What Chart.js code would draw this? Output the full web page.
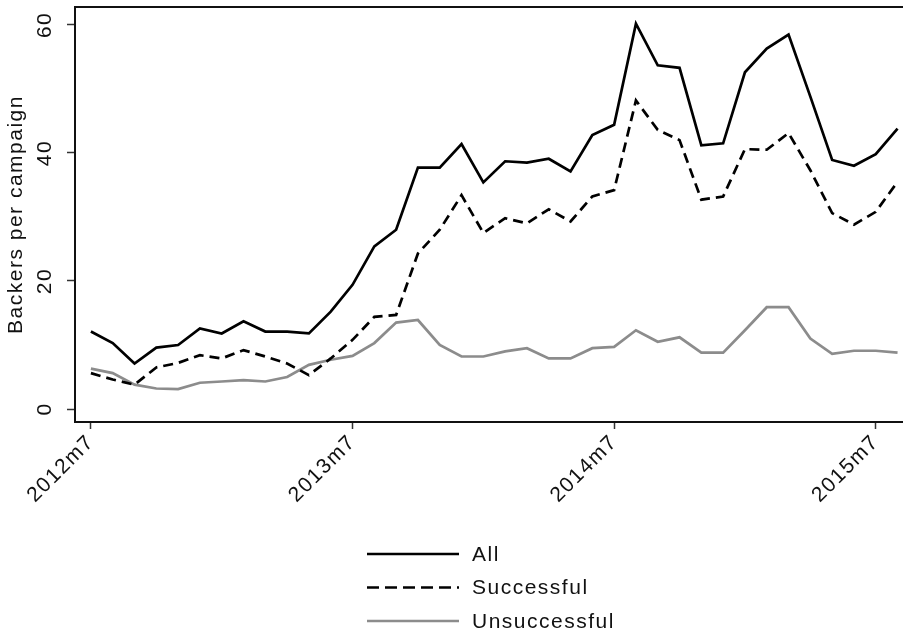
<!DOCTYPE html>
<html>
<head>
<meta charset="utf-8">
<script src="https://cdn.jsdelivr.net/npm/chart.js@4/dist/chart.umd.min.js"></script>
<style>
  html, body { margin: 0; padding: 0; background: #fff; overflow: hidden; }
  #wrap { width: 903px; height: 637px; position: relative; }
</style>
</head>
<body>
<div id="wrap"><canvas id="c" width="903" height="637"></canvas></div>
<script>
// Monthly periods, 2012m7 .. 2015m8
const months = [
  '2012m7','2012m8','2012m9','2012m10','2012m11','2012m12',
  '2013m1','2013m2','2013m3','2013m4','2013m5','2013m6',
  '2013m7','2013m8','2013m9','2013m10','2013m11','2013m12',
  '2014m1','2014m2','2014m3','2014m4','2014m5','2014m6',
  '2014m7','2014m8','2014m9','2014m10','2014m11','2014m12',
  '2015m1','2015m2','2015m3','2015m4','2015m5','2015m6',
  '2015m7','2015m8'
];

// Average backers per campaign
const allCampaigns = [
  12.1, 10.3, 7.1, 9.6, 10.0, 12.6, 11.8, 13.7, 12.1, 12.1, 11.8, 15.2,
  19.4, 25.4, 28.0, 37.7, 37.7, 41.4, 35.4, 38.7, 38.5, 39.1, 37.1, 42.8,
  44.4, 60.2, 53.7, 53.3, 41.2, 41.5, 52.6, 56.3, 58.5, 48.8, 38.9, 38.0,
  39.8, 43.8
];
const successful = [
  5.6, 4.6, 3.8, 6.5, 7.2, 8.4, 7.9, 9.2, 8.2, 7.1, 5.3, 7.9,
  10.8, 14.4, 14.7, 24.3, 28.0, 33.4, 27.5, 29.8, 29.0, 31.2, 29.3, 33.2,
  34.2, 48.2, 43.6, 42.0, 32.7, 33.2, 40.6, 40.5, 43.1, 37.3, 30.6, 28.8,
  30.8, 35.5
];
const unsuccessful = [
  6.3, 5.6, 3.8, 3.2, 3.1, 4.1, 4.3, 4.5, 4.3, 5.0, 6.9, 7.7,
  8.3, 10.3, 13.5, 13.9, 10.0, 8.2, 8.2, 9.0, 9.5, 7.9, 7.9, 9.5,
  9.7, 12.3, 10.5, 11.2, 8.8, 8.8, 12.3, 15.9, 15.9, 11.0, 8.6, 9.1,
  9.1, 8.8
];

const xTickMonths = ['2012m7', '2013m7', '2014m7', '2015m7'];
const yTickValues = [0, 20, 40, 60];

const FONT = "'Liberation Sans', Arial, Helvetica, sans-serif";
const TRACKING = '1.5px';

const toPoints = arr => arr.map((v, i) => ({ x: i, y: v }));

// Slightly open letter spacing for every label the chart draws
const tracking = {
  id: 'tracking',
  beforeUpdate(chart) { chart.ctx.letterSpacing = TRACKING; },
  beforeDraw(chart) { chart.ctx.letterSpacing = TRACKING; }
};

// Top frame line (the axes draw the left and bottom edges)
const frameTop = {
  id: 'frameTop',
  afterDraw(chart) {
    const { ctx, chartArea } = chart;
    ctx.save();
    ctx.strokeStyle = '#111';
    ctx.lineWidth = 2;
    ctx.beginPath();
    ctx.moveTo(chartArea.left, chartArea.top);
    ctx.lineTo(chartArea.right, chartArea.top);
    ctx.stroke();
    ctx.restore();
  }
};

// Stacked legend below the axis, one series per row
const stackedLegend = {
  id: 'stackedLegend',
  afterDraw(chart, args, opts) {
    const { ctx } = chart;
    ctx.save();
    ctx.font = opts.fontSize + 'px ' + FONT;
    ctx.textBaseline = 'middle';
    ctx.textAlign = 'left';
    chart.data.datasets.forEach((ds, i) => {
      const y = opts.top + i * opts.rowGap;
      ctx.strokeStyle = ds.borderColor;
      ctx.lineWidth = ds.borderWidth;
      ctx.setLineDash(opts.dashes[i] || []);
      ctx.beginPath();
      ctx.moveTo(opts.lineStart, y);
      ctx.lineTo(opts.lineEnd, y);
      ctx.stroke();
      ctx.setLineDash([]);
      ctx.fillStyle = '#111';
      ctx.fillText(ds.label, opts.textX, y + 1);
    });
    ctx.restore();
  }
};

const noEdgePadding = scale => {
  scale.paddingTop = 0;
  scale.paddingBottom = 0;
  scale.paddingLeft = 0;
  scale.paddingRight = 0;
};

new Chart(document.getElementById('c'), {
  type: 'line',
  data: {
    datasets: [
      {
        label: 'All',
        data: toPoints(allCampaigns),
        borderColor: '#000',
        borderWidth: 2.7,
        pointRadius: 0,
        tension: 0
      },
      {
        label: 'Successful',
        data: toPoints(successful),
        borderColor: '#000',
        borderWidth: 2.7,
        borderDash: [10, 6],
        pointRadius: 0,
        tension: 0
      },
      {
        label: 'Unsuccessful',
        data: toPoints(unsuccessful),
        borderColor: '#8c8c8c',
        borderWidth: 2.7,
        pointRadius: 0,
        tension: 0
      }
    ]
  },
  options: {
    responsive: false,
    animation: false,
    events: [],
    layout: { padding: { top: 7, right: 0, bottom: 0, left: 0 } },
    plugins: {
      legend: { display: false },
      tooltip: { enabled: false },
      stackedLegend: {
        top: 554, rowGap: 33.5,
        lineStart: 367, lineEnd: 459, textX: 472,
        fontSize: 21,
        dashes: [[], [12, 6], []]
      }
    },
    scales: {
      x: {
        type: 'linear',
        min: -0.73,
        max: 37.25,
        afterFit(scale) { scale.height = 637 - 422; noEdgePadding(scale); },
        afterBuildTicks(scale) {
          scale.ticks = xTickMonths.map(m => ({ value: months.indexOf(m) }));
        },
        border: { display: true, color: '#111', width: 2 },
        grid: {
          drawOnChartArea: false, drawTicks: true,
          tickLength: 7, tickWidth: 1.5, tickColor: '#333'
        },
        ticks: {
          minRotation: 45, maxRotation: 45,
          autoSkip: false,
          padding: 1,
          color: '#111',
          font: { family: FONT, size: 21 },
          callback: v => months[v]
        }
      },
      y: {
        min: -2.03,
        max: 62.8,
        afterFit(scale) { scale.width = 75; noEdgePadding(scale); },
        afterBuildTicks(scale) {
          scale.ticks = yTickValues.map(v => ({ value: v }));
        },
        border: { display: true, color: '#111', width: 2 },
        grid: {
          drawOnChartArea: false, drawTicks: true,
          tickLength: 8, tickWidth: 1.5, tickColor: '#333'
        },
        ticks: {
          minRotation: 90, maxRotation: 90,
          crossAlign: 'center',
          padding: 9,
          color: '#111',
          font: { family: FONT, size: 21 }
        },
        title: {
          display: true,
          text: 'Backers per campaign',
          color: '#111',
          font: { family: FONT, size: 21 },
          padding: { top: 4, bottom: 0 }
        }
      }
    }
  },
  plugins: [tracking, frameTop, stackedLegend]
});
</script>
</body>
</html>
